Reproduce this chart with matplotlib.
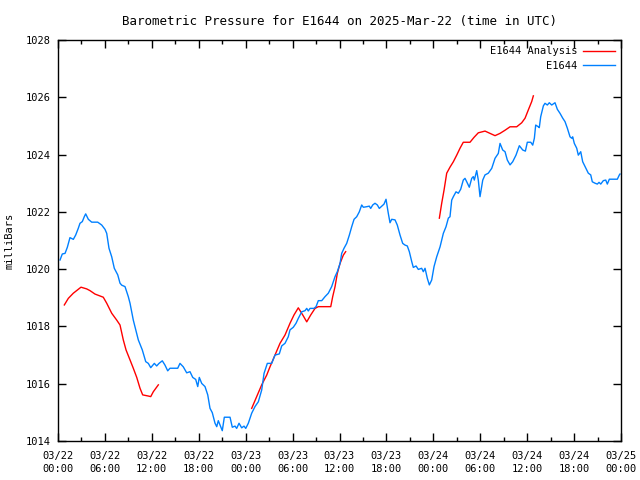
import numpy as np
import matplotlib
matplotlib.use("Agg")
import matplotlib.pyplot as plt

# hours since 2025-03-22 00:00 UTC, pressure in millibars
obs_hours = [0.26, 0.55, 0.9, 1.19, 1.53, 1.96, 2.26, 2.6, 2.81, 3.11, 3.36, 3.54, 3.88, 4.31, 5.08,
             5.59, 6.01, 6.23, 6.52, 6.87, 7.2, 7.64, 7.93, 8.15, 8.57, 8.99, 9.21, 9.63, 10.27, 10.78,
             11.22, 11.55, 11.86, 12.32, 12.62, 12.92, 13.34, 13.68, 14.03, 14.32, 15.31, 15.6, 16.02,
             16.46, 16.88, 17.23, 17.61, 17.87, 18.07, 18.38, 18.8, 19.15, 19.44, 19.73, 20.08, 20.3,
             20.5, 20.81, 21.01, 21.27, 22.0, 22.29, 22.64, 22.85, 23.15, 23.49, 23.79, 24.01, 24.34,
             24.77, 25.19, 25.62, 26.05, 26.35, 26.77, 27.33, 27.75, 28.3, 28.61, 29.03, 29.45, 29.67,
             30.09, 30.44, 30.73, 31.17, 31.59, 31.81, 32.01, 32.23, 32.74, 33.0, 33.29, 33.73, 34.15,
             34.57, 35.0, 35.43, 35.72, 36.07, 36.28, 36.58, 36.92, 37.26, 37.56, 37.86, 38.2, 38.53,
             38.84, 39.05, 39.48, 39.81, 39.99, 40.25, 40.54, 40.84, 41.09, 41.4, 41.69, 41.95, 42.24,
             42.46, 42.68, 43.1, 43.39, 43.74, 44.08, 44.38, 44.67, 44.93, 45.24, 45.44, 45.79, 46.08,
             46.51, 46.72, 46.94, 47.23, 47.49, 47.79, 48.09, 48.43, 48.86, 49.28, 49.62, 49.92, 50.13,
             50.35, 50.56, 50.9, 51.2, 51.5, 51.83, 52.05, 52.27, 52.6, 52.91, 53.11, 53.24, 53.55,
             53.75, 53.97, 54.32, 54.61, 55.03, 55.47, 55.89, 56.31, 56.53, 56.87, 57.17, 57.46, 57.81,
             58.15, 58.57, 59.0, 59.43, 59.77, 60.02, 60.46, 60.71, 60.92, 61.09, 61.43, 61.55, 61.73,
             62.07, 62.28, 62.58, 62.83, 63.14, 63.56, 63.86, 64.2, 64.55, 64.84, 65.14, 65.48, 65.7,
             65.82, 66.03, 66.34, 66.54, 66.85, 67.1, 67.4, 67.82, 68.13, 68.33, 68.68, 68.97, 69.19,
             69.41, 69.74, 70.05, 70.25, 70.51, 71.53, 71.79, 71.87]
obs_mb = [1020.32, 1020.53, 1020.55, 1020.76, 1021.10, 1021.04, 1021.19, 1021.43, 1021.60, 1021.66,
          1021.83, 1021.93, 1021.74, 1021.64, 1021.64, 1021.54, 1021.39, 1021.25, 1020.73, 1020.43,
          1020.03, 1019.80, 1019.51, 1019.44, 1019.39, 1019.04, 1018.81, 1018.22, 1017.53, 1017.18,
          1016.77, 1016.71, 1016.56, 1016.71, 1016.62, 1016.71, 1016.80, 1016.65, 1016.45, 1016.54,
          1016.54, 1016.71, 1016.59, 1016.38, 1016.42, 1016.22, 1016.15, 1015.90, 1016.22, 1016.01,
          1015.90, 1015.61, 1015.14, 1014.99, 1014.62, 1014.50, 1014.71, 1014.50, 1014.36, 1014.83,
          1014.83, 1014.48, 1014.52, 1014.44, 1014.62, 1014.46, 1014.52, 1014.44, 1014.62, 1014.97,
          1015.20, 1015.37, 1015.78, 1016.36, 1016.71, 1016.71, 1017.00, 1017.04, 1017.32, 1017.41,
          1017.64, 1017.88, 1017.97, 1018.11, 1018.28, 1018.51, 1018.55, 1018.63, 1018.54, 1018.63,
          1018.63, 1018.69, 1018.90, 1018.90, 1019.04, 1019.16, 1019.39, 1019.74, 1019.91, 1020.20,
          1020.55, 1020.73, 1020.90, 1021.19, 1021.48, 1021.74, 1021.83, 1022.00, 1022.24, 1022.16,
          1022.18, 1022.20, 1022.12, 1022.24, 1022.30, 1022.24, 1022.12, 1022.20, 1022.27, 1022.44,
          1021.95, 1021.62, 1021.74, 1021.72, 1021.54, 1021.19, 1020.90, 1020.84, 1020.81, 1020.61,
          1020.26, 1020.06, 1020.11, 1019.99, 1020.03, 1019.91, 1020.03, 1019.68, 1019.45, 1019.62,
          1020.09, 1020.43, 1020.78, 1021.25, 1021.48, 1021.78, 1021.83, 1022.41, 1022.53, 1022.70,
          1022.65, 1022.79, 1023.11, 1023.17, 1023.05, 1022.86, 1023.17, 1023.23, 1023.11, 1023.44,
          1023.11, 1022.53, 1023.11, 1023.29, 1023.35, 1023.52, 1023.87, 1024.04, 1024.39, 1024.16,
          1024.10, 1023.81, 1023.64, 1023.75, 1023.98, 1024.31, 1024.16, 1024.12, 1024.43, 1024.43,
          1024.33, 1024.57, 1025.03, 1024.97, 1024.94, 1025.32, 1025.70, 1025.79, 1025.73, 1025.81,
          1025.73, 1025.81, 1025.58, 1025.44, 1025.27, 1025.15, 1024.92, 1024.62, 1024.57, 1024.62,
          1024.39, 1024.22, 1023.98, 1024.10, 1023.75, 1023.58, 1023.35, 1023.29, 1023.05, 1023.00,
          1022.97, 1023.03, 1022.97, 1023.09, 1023.11, 1022.97, 1023.14, 1023.14, 1023.29, 1023.32]

# analysis comes in three runs, NaN marks the gaps
ana_hours = [0.81, 1.32, 1.96, 2.94, 3.67, 4.09, 4.73, 5.79, 6.23, 6.87, 7.51, 7.93, 8.35, 8.7, 9.21,
             9.63, 10.07, 10.49, 10.83, 11.55, 11.86, 12.19, 12.83, 18.0,
             24.77, 25.41, 26.05, 26.69, 27.11, 27.75, 28.39, 29.03, 29.67, 30.18, 30.73, 31.3, 31.81,
             32.32, 32.87, 33.29, 34.88, 35.13, 35.43, 35.72, 36.07, 36.49, 36.79, 42.0,
             48.77, 49.07, 49.37, 49.71, 50.13, 50.56, 50.99, 51.41, 51.83, 52.69, 53.2, 53.75, 54.61,
             55.25, 55.89, 56.53, 57.17, 57.81, 58.66, 59.3, 59.73, 60.15, 60.58, 60.79]
ana_mb = [1018.75, 1018.98, 1019.16, 1019.37, 1019.31, 1019.25, 1019.13, 1019.02, 1018.81, 1018.46,
          1018.22, 1018.05, 1017.53, 1017.18, 1016.83, 1016.54, 1016.22, 1015.84, 1015.61, 1015.57,
          1015.55, 1015.72, 1015.96, np.nan,
          1015.14, 1015.55, 1015.96, 1016.30, 1016.59, 1017.00, 1017.41, 1017.70, 1018.11, 1018.40,
          1018.65, 1018.40, 1018.16, 1018.40, 1018.63, 1018.69, 1018.69, 1019.04, 1019.39, 1019.85,
          1020.20, 1020.49, 1020.61, np.nan,
          1021.78, 1022.30, 1022.76, 1023.35, 1023.56, 1023.75, 1023.98, 1024.22, 1024.43, 1024.43,
          1024.60, 1024.76, 1024.82, 1024.74, 1024.66, 1024.74, 1024.85, 1024.97, 1024.97, 1025.11,
          1025.27, 1025.56, 1025.85, 1026.05]

tick_hours = list(range(0, 73, 6))
tick_labels = ["03/22\n00:00", "03/22\n06:00", "03/22\n12:00", "03/22\n18:00",
               "03/23\n00:00", "03/23\n06:00", "03/23\n12:00", "03/23\n18:00",
               "03/24\n00:00", "03/24\n06:00", "03/24\n12:00", "03/24\n18:00",
               "03/25\n00:00"]

plt.rcParams["font.family"] = "DejaVu Sans Mono"
plt.rcParams["font.size"] = 7.5

fig = plt.figure(figsize=(6.4, 4.8), dpi=100)
ax = fig.add_axes([58 / 640, 39 / 480, 563 / 640, 401 / 480])

ax.plot(ana_hours, ana_mb, color="#ff0000", lw=1.0, label="E1644 Analysis")
ax.plot(obs_hours, obs_mb, color="#0080ff", lw=1.0, label="E1644")

ax.set_xlim(0, 72)
ax.set_ylim(1014, 1028)
ax.set_xticks(tick_hours)
ax.set_xticklabels(tick_labels, linespacing=1.45)
ax.set_xticks(range(3, 72, 6), minor=True)
ax.set_yticks(range(1014, 1029, 2))
ax.tick_params(which="both", direction="in", top=True, right=True, width=1)
ax.tick_params(axis="x", pad=7)
ax.tick_params(axis="y", pad=5)
ax.tick_params(which="major", length=6)
ax.tick_params(which="minor", length=3)
for s in ax.spines.values():
    s.set_linewidth(1)

ax.set_ylabel("milliBars", labelpad=8)
ax.set_title("Barometric Pressure for E1644 on 2025-Mar-22 (time in UTC)", pad=11)
ax.legend(loc="upper right", frameon=False, markerfirst=False, handlelength=3.0,
          handletextpad=0.6, labelspacing=0.45, borderaxespad=0.2)

fig.savefig("out.png", dpi=100)
